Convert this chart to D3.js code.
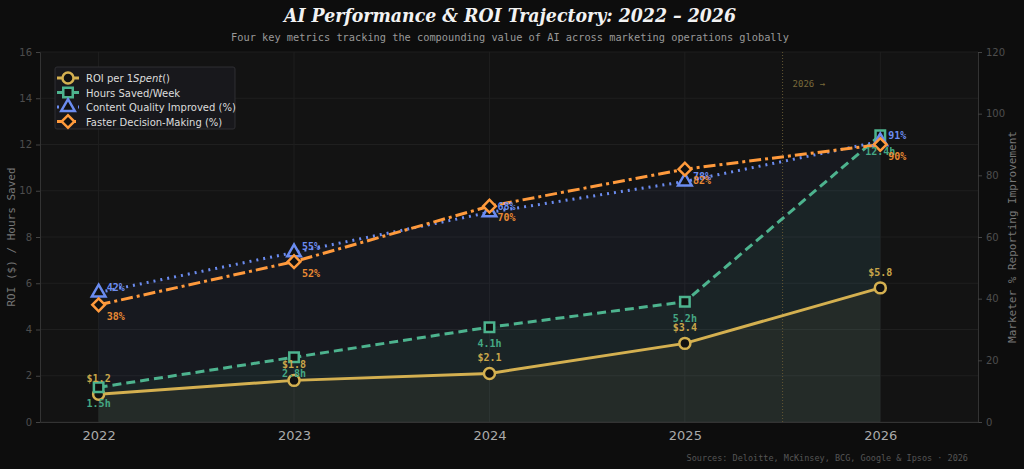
<!DOCTYPE html>
<html>
<head>
<meta charset="utf-8">
<script src="https://cdn.jsdelivr.net/npm/d3@7"></script>
<style>
  body { margin: 0; background: #0d0d0d; }
  svg { display: block; }
</style>
</head>
<body>
<div class="chart"></div>
<script>
// data
const years = [2022, 2023, 2024, 2025, 2026];
const roi = [1.2, 1.8, 2.1, 3.4, 5.8];
const hours = [1.5, 2.8, 4.1, 5.2, 12.4];
const quality = [42, 55, 68, 78, 91];
const decision = [38, 52, 70, 82, 90];
const leftTicks = [0, 2, 4, 6, 8, 10, 12, 14, 16];
const rightTicks = [0, 20, 40, 60, 80, 100, 120];

const W = 1024, H = 469;
const margin = {top: 52, right: 46, bottom: 47, left: 40},
    width = W - margin.left - margin.right,
    height = H - margin.top - margin.bottom;

const svg = d3.select(".chart").append("svg")
    .attr("width", W).attr("height", H);

svg.append("rect").attr("width", W).attr("height", H).attr("fill", "#0d0d0d");

const g = svg.append("g").attr("transform", `translate(${margin.left},${margin.top})`);

const x = d3.scaleLinear().domain([2021.7, 2026.5]).range([0, width]);
const yL = d3.scaleLinear().domain([0, 16]).range([height, 0]);
const yR = d3.scaleLinear().domain([0, 120]).range([height, 0]);

// panel
g.append("rect").attr("width", width).attr("height", height).attr("fill", "#131313");

// grid
g.selectAll(".hgrid").data(leftTicks).join("line")
    .attr("x1", 0).attr("x2", width)
    .attr("y1", d => yL(d)).attr("y2", d => yL(d))
    .attr("stroke", "#1f1f1f").attr("stroke-width", 1);
g.selectAll(".vgrid").data(years).join("line")
    .attr("y1", 0).attr("y2", height)
    .attr("x1", d => x(d)).attr("x2", d => x(d))
    .attr("stroke", "#1f1f1f").attr("stroke-width", 1);

// areas
const area = (vals, ys) => d3.area()
    .x((d, i) => x(years[i])).y0(height).y1(d => ys(d))(vals);
g.append("path").attr("d", area(quality, yR)).attr("fill", "#6b8cf0").attr("opacity", 0.06);
g.append("path").attr("d", area(hours, yL)).attr("fill", "#4db38e").attr("opacity", 0.07);
g.append("path").attr("d", area(roi, yL)).attr("fill", "#d4b050").attr("opacity", 0.06);

// projection marker
g.append("line")
    .attr("x1", x(2025.5)).attr("x2", x(2025.5)).attr("y1", 0).attr("y2", height)
    .attr("stroke", "#635632").attr("stroke-width", 1).attr("stroke-dasharray", "1,2");
g.append("text").attr("x", x(2025.5) + 10).attr("y", 35)
    .attr("font-family", "DejaVu Sans Mono").attr("font-size", 9)
    .attr("fill", "#7a6a3a").text("2026 →");

// axes
const axL = g.append("g").call(d3.axisLeft(yL).tickValues(leftTicks).tickSize(4).tickPadding(4));
const axR = g.append("g").attr("transform", `translate(${width},0)`)
    .call(d3.axisRight(yR).tickValues(rightTicks).tickSize(4).tickPadding(4));
const axB = g.append("g").attr("transform", `translate(0,${height})`)
    .call(d3.axisBottom(x).tickValues(years).tickFormat(d3.format("d")).tickSize(0).tickPadding(9));
[axL, axR].forEach(a => {
  a.select(".domain").attr("stroke", "#333");
  a.selectAll(".tick line").attr("stroke", "#444");
  a.selectAll("text").attr("fill", "#4d4d4d").attr("font-family", "DejaVu Sans").attr("font-size", 10);
});
axB.select(".domain").attr("stroke", "#333");
axB.selectAll("text").attr("fill", "#aaaaaa").attr("font-family", "DejaVu Sans").attr("font-size", 13);

// series
const series = [
  {name: "ROI per 1", vals: roi, y: yL, color: "#d4b050", dash: null, shape: "circle"},
  {name: "Hours Saved/Week", vals: hours, y: yL, color: "#4db38e", dash: "9,5", shape: "square"},
  {name: "Content Quality Improved (%)", vals: quality, y: yR, color: "#6b8cf0", dash: "2,5", shape: "triangle"},
  {name: "Faster Decision-Making (%)", vals: decision, y: yR, color: "#ff9a3c", dash: "12,4,3,4", shape: "diamond"}
];

const symbols = {
  circle: d3.symbol().type(d3.symbolCircle).size(95),
  square: d3.symbol().type(d3.symbolSquare).size(90),
  triangle: d3.symbol().type(d3.symbolTriangle).size(80),
  diamond: d3.symbol().type(d3.symbolSquare).size(80)
};

series.forEach(s => {
  const line = d3.line().x((d, i) => x(years[i])).y(d => s.y(d));
  g.append("path").attr("d", line(s.vals))
    .attr("fill", "none").attr("stroke", s.color).attr("stroke-width", 3)
    .attr("stroke-dasharray", s.dash).attr("stroke-linecap", s.dash ? "butt" : "round");
});
series.forEach(s => {
  g.selectAll(null).data(s.vals).join("path")
    .attr("d", symbols[s.shape])
    .attr("transform", (d, i) => `translate(${x(years[i])},${s.y(d)})` + (s.shape === "diamond" ? " rotate(45)" : ""))
    .attr("fill", "#111").attr("stroke", s.color).attr("stroke-width", 2.5);
});

// value labels
const mono = "DejaVu Sans Mono";
g.selectAll(null).data(roi).join("text")
  .attr("x", (d, i) => x(years[i])).attr("y", d => yL(d) - 12)
  .attr("text-anchor", "middle").attr("font-family", mono).attr("font-size", 10).attr("font-weight", "bold")
  .attr("fill", "#c9a64a").text(d => "$" + d);
g.selectAll(null).data(hours).join("text")
  .attr("x", (d, i) => x(years[i])).attr("y", d => yL(d) + 20)
  .attr("text-anchor", "middle").attr("font-family", mono).attr("font-size", 10).attr("font-weight", "bold")
  .attr("fill", "#45a884").text(d => d + "h");
g.selectAll(null).data(quality).join("text")
  .attr("x", (d, i) => x(years[i]) + 8).attr("y", d => yR(d) - 2)
  .attr("font-family", mono).attr("font-size", 10).attr("font-weight", "bold")
  .attr("fill", "#6b8cf0").text(d => d + "%");
g.selectAll(null).data(decision).join("text")
  .attr("x", (d, i) => x(years[i]) + 8).attr("y", d => yR(d) + 15)
  .attr("font-family", mono).attr("font-size", 10).attr("font-weight", "bold")
  .attr("fill", "#e88a34").text(d => d + "%");

// legend
const lg = g.append("g").attr("transform", "translate(15,15)");
lg.append("rect").attr("width", 180).attr("height", 62).attr("rx", 2)
  .attr("fill", "#18181c").attr("stroke", "#2e2e33");
series.forEach((s, i) => {
  const yy = 11 + i * 14.5;
  lg.append("line").attr("x1", 2).attr("x2", 24).attr("y1", yy).attr("y2", yy)
    .attr("stroke", s.color).attr("stroke-width", 3).attr("stroke-dasharray", s.dash);
  lg.append("path").attr("d", symbols[s.shape])
    .attr("transform", `translate(13,${yy})` + (s.shape === "diamond" ? " rotate(45)" : ""))
    .attr("fill", "#111").attr("stroke", s.color).attr("stroke-width", 2.5);
  const t = lg.append("text").attr("x", 31).attr("y", yy + 4)
    .attr("font-family", "DejaVu Sans").attr("font-size", 10).attr("fill", "#dddddd").text(s.name);
  if (i === 0) {
    t.append("tspan").attr("font-style", "italic").text("Spent");
    t.append("tspan").text("()");
  }
});

// titles
svg.append("text").attr("x", 510).attr("y", 22).attr("text-anchor", "middle")
  .attr("font-family", "DejaVu Serif").attr("font-weight", "bold").attr("font-style", "italic")
  .attr("font-stretch", "condensed").attr("font-size", 19.3).attr("fill", "#f2f2f2")
  .text("AI Performance & ROI Trajectory: 2022 – 2026");
svg.append("text").attr("x", 510).attr("y", 41).attr("text-anchor", "middle")
  .attr("font-family", mono).attr("font-size", 10.3).attr("fill", "#999")
  .text("Four key metrics tracking the compounding value of AI across marketing operations globally");

svg.append("text").attr("transform", `translate(15,${margin.top + height / 2}) rotate(-90)`)
  .attr("text-anchor", "middle").attr("font-family", mono).attr("font-size", 11).attr("fill", "#777")
  .text("ROI ($) / Hours Saved");
svg.append("text").attr("transform", `translate(1016,${margin.top + height / 2}) rotate(-90)`)
  .attr("text-anchor", "middle").attr("font-family", mono).attr("font-size", 11).attr("fill", "#777")
  .text("Marketer % Reporting Improvement");

svg.append("text").attr("x", 968).attr("y", 461).attr("text-anchor", "end")
  .attr("font-family", mono).attr("font-size", 8.5).attr("fill", "#555")
  .text("Sources: Deloitte, McKinsey, BCG, Google & Ipsos · 2026");
</script>
</body>
</html>
